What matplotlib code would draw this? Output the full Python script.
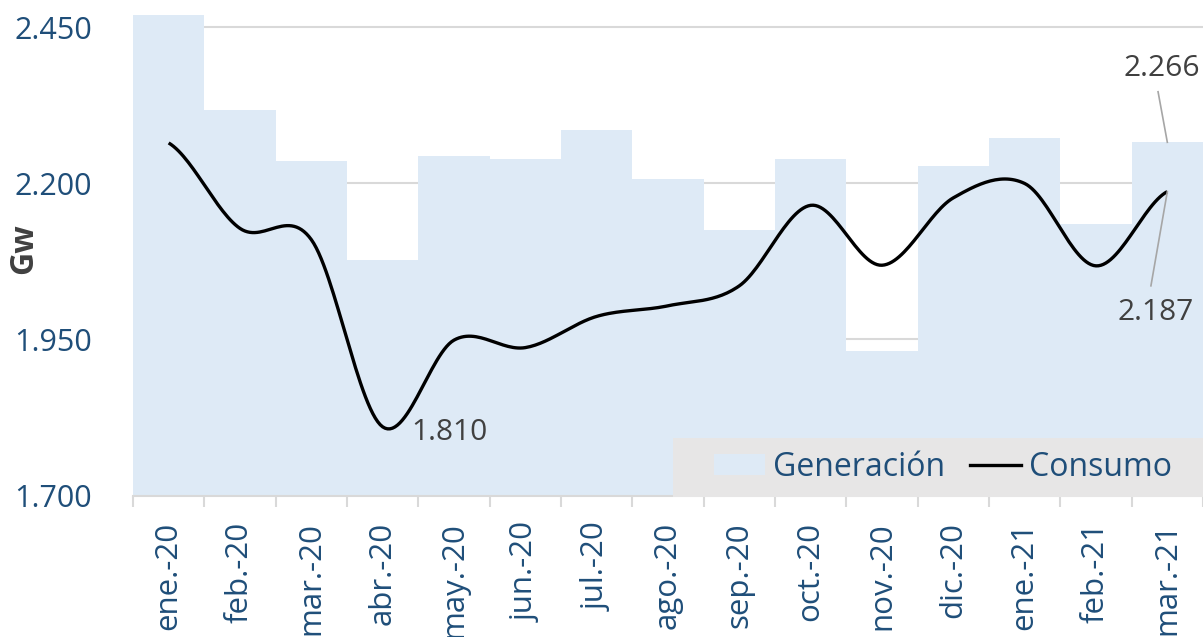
import numpy as np
import matplotlib
matplotlib.use("Agg")
import matplotlib.pyplot as plt
from matplotlib.patches import Rectangle, Patch
from matplotlib.lines import Line2D

plt.rcParams['font.family'] = ['Open Sans', 'DejaVu Sans']

months = ["ene.-20", "feb.-20", "mar.-20", "abr.-20", "may.-20", "jun.-20", "jul.-20",
          "ago.-20", "sep.-20", "oct.-20", "nov.-20", "dic.-20", "ene.-21", "feb.-21", "mar.-21"]
generacion = [2480, 2318, 2236, 2078, 2244, 2239, 2286, 2207, 2125, 2239, 1932, 2228, 2273, 2135, 2266]
consumo = [2265, 2128, 2110, 1810, 1949, 1937, 1987, 2004, 2036, 2165, 2069, 2177, 2200, 2068, 2187]
yticks = [1700, 1950, 2200, 2450]

BLUE_TXT = "#1F4E79"
FILL = "#DEEAF6"
GRAY_TXT = "#404040"


def smooth(xs, ys, n=30):
    xs = np.asarray(xs, float)
    ys = np.asarray(ys, float)
    px = np.concatenate([[2 * xs[0] - xs[1]], xs, [2 * xs[-1] - xs[-2]]])
    py = np.concatenate([[ys[0]], ys, [ys[-1]]])
    outx, outy = [], []
    for i in range(1, len(px) - 2):
        p0x, p1x, p2x, p3x = px[i - 1], px[i], px[i + 1], px[i + 2]
        p0y, p1y, p2y, p3y = py[i - 1], py[i], py[i + 1], py[i + 2]
        c1x, c1y = p1x + (p2x - p0x) / 6, p1y + (p2y - p0y) / 6
        c2x, c2y = p2x - (p3x - p1x) / 6, p2y - (p3y - p1y) / 6
        t = np.linspace(0, 1, n)
        b0, b1, b2, b3 = (1 - t) ** 3, 3 * (1 - t) ** 2 * t, 3 * (1 - t) * t ** 2, t ** 3
        outx.append(b0 * p1x + b1 * c1x + b2 * c2x + b3 * p2x)
        outy.append(b0 * p1y + b1 * c1y + b2 * c2y + b3 * p2y)
    return np.concatenate(outx), np.concatenate(outy)


fig = plt.figure(figsize=(12.03, 6.37), dpi=100)
W, H = 1203, 637
ax = fig.add_axes([133 / W, 1 - 495.5 / H, 1 - 133 / W, (495.5 - 15) / H])

x = np.arange(len(months))
ax.bar(x, generacion, width=1.0, color=FILL, zorder=2, bottom=0)
sx, sy = smooth(x, consumo)
ax.plot(sx, sy, color="black", lw=2.4, zorder=4, solid_capstyle='butt')

ax.set_xlim(-0.5, len(months) - 0.5)
ax.set_ylim(1700, 2470)
ax.set_yticks(yticks)
ax.set_yticklabels([f"{v/1000:.3f}" for v in yticks])
ax.yaxis.grid(True, color="#D9D9D9", lw=1.5, zorder=0)
ax.set_axisbelow(True)
ax.tick_params(axis='y', length=0, pad=29.5, labelsize=22, labelcolor=BLUE_TXT)
for lbl in ax.get_yticklabels():
    lbl.set_horizontalalignment('right')

ax.set_xticks(x)
ax.set_xticklabels(months, rotation=90)
ax.tick_params(axis='x', which='major', length=0, pad=19, labelsize=22.5, labelcolor=BLUE_TXT)
ax.set_xticks(np.arange(-0.5, len(months), 1.0), minor=True)
ax.tick_params(axis='x', which='minor', length=8, width=1.5, color="#D9D9D9")

for s in ['top', 'right', 'left']:
    ax.spines[s].set_visible(False)
ax.spines['bottom'].set_color("#D9D9D9")
ax.spines['bottom'].set_linewidth(1.5)
ax.spines['bottom'].set_zorder(5)

fig.text(24 / W, 1 - 249 / H, "Gw", rotation=90, ha='center', va='center',
         fontsize=23, fontweight='bold', color=GRAY_TXT)

# data labels
ax.annotate("1.810", xy=(3, consumo[3]), xytext=(411 / W, 1 - 432 / H), textcoords='figure fraction',
            ha='left', va='center', fontsize=21.5, color=GRAY_TXT)
ax.annotate("2.266", xy=(14, generacion[14]), xytext=(1162 / W, 1 - 68.5 / H), textcoords='figure fraction',
            ha='center', va='center', fontsize=21.5, color=GRAY_TXT)
ax.plot([13.87, 14.0], [2347, generacion[14]], color="#A6A6A6", lw=1.2, zorder=5)
ax.annotate("2.187", xy=(14, consumo[14]), xytext=(1156 / W, 1 - 313 / H), textcoords='figure fraction',
            ha='center', va='center', fontsize=21.5, color=GRAY_TXT)
ax.plot([13.77, 14.0], [2036, consumo[14]], color="#A6A6A6", lw=1.2, zorder=5)

# legend background
fig.patches.append(Rectangle((673 / W, 1 - 497 / H), (W - 673) / W, 59 / H,
                             transform=fig.transFigure, facecolor="#E7E6E6",
                             edgecolor='none', zorder=6))
handles = [Patch(facecolor=FILL, edgecolor='none'), Line2D([0], [0], color='black', lw=2.4)]
leg = fig.legend(handles, ["Generación", "Consumo"], loc='center', ncol=2,
                 bbox_to_anchor=(943 / W, 1 - 467 / H), frameon=False, fontsize=23,
                 labelcolor=BLUE_TXT, handlelength=1.6, handleheight=0.65,
                 handletextpad=0.25, columnspacing=0.8)
leg.set_zorder(7)

fig.savefig("out.png", dpi=100)
